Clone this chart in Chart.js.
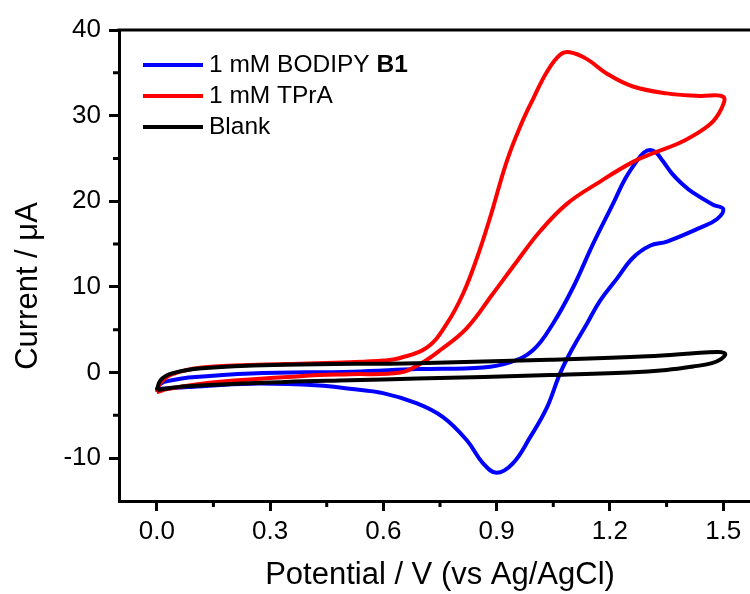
<!DOCTYPE html>
<html>
<head>
<meta charset="utf-8">
<script src="https://cdn.jsdelivr.net/npm/chart.js@4.4.1/dist/chart.umd.min.js"></script>
<style>
  html, body { margin: 0; padding: 0; background: #fff; overflow: hidden; }
</style>
</head>
<body>
<canvas id="cvChart" width="764" height="594"></canvas>
<script>
/* =====================================================
   DATA
===================================================== */
const xTicks = [0, 0.3, 0.6, 0.9, 1.2, 1.5];
const xMinor = [0.15, 0.45, 0.75, 1.05, 1.35];
const yTicks = [-10, 0, 10, 20, 30, 40];
const yMinor = [-5, 5, 15, 25, 35];

const seriesNames = ["1 mM BODIPY ", "1 mM TPrA", "Blank"];
const seriesBold = ["B1", "", ""];
const seriesColors = ["#0000ff", "#ff0000", "#000000"];

// 1 mM BODIPY B1 : forward scan then reverse scan
const bodipyV = [0, 0.01, 0.04, 0.08, 0.25, 0.52, 0.69, 0.864, 0.935, 0.996, 1.049, 1.102, 1.155, 1.208, 1.24, 1.271, 1.29, 1.306, 1.322, 1.34, 1.365, 1.392, 1.42, 1.473, 1.50,
  1.483, 1.438, 1.351, 1.306, 1.261, 1.219, 1.174, 1.139, 1.102, 1.068, 1.033, 0.988, 0.943, 0.90, 0.864, 0.821, 0.758, 0.689, 0.599, 0.511, 0.43, 0.25, 0.08, 0.01, 0];
const bodipyI = [-2.0, -1.3, -0.9, -0.6, -0.1, 0.1, 0.4, 0.6, 1.2, 2.6, 5.7, 9.9, 15.0, 19.7, 22.6, 24.7, 25.7, 26.0, 25.7, 24.7, 23.2, 22.0, 21.0, 19.6, 19.1,
  17.9, 16.9, 15.3, 14.8, 13.4, 11.0, 8.4, 5.7, 2.9, -0.1, -4.1, -7.6, -10.6, -11.7, -10.6, -7.9, -5.2, -3.6, -2.4, -1.9, -1.5, -1.3, -1.7, -1.9, -2.0];

// 1 mM TPrA
const tpraV = [0, 0.01, 0.04, 0.12, 0.34, 0.51, 0.60, 0.644, 0.715, 0.768, 0.811, 0.848, 0.882, 0.927, 0.965, 0.997, 1.033, 1.068, 1.094, 1.139, 1.192, 1.261, 1.351, 1.438, 1.50,
  1.495, 1.465, 1.393, 1.32, 1.261, 1.174, 1.086, 1.015, 0.954, 0.89, 0.821, 0.75, 0.697, 0.644, 0.511, 0.43, 0.16, 0.03, 0];
const tpraI = [-2.3, -1.2, -0.2, 0.6, 1.0, 1.2, 1.4, 1.7, 2.9, 5.7, 9.2, 13.4, 18.0, 24.7, 29.0, 32.0, 35.1, 37.1, 37.4, 36.6, 34.9, 33.4, 32.6, 32.3, 32.2,
  30.8, 29.0, 27.0, 25.7, 24.6, 22.3, 19.7, 16.5, 13.0, 9.2, 5.2, 2.6, 1.0, 0.0, -0.2, -0.3, -1.1, -1.9, -2.3];

// Blank
const blankV = [0, 0.01, 0.04, 0.12, 0.34, 0.69, 1.04, 1.30, 1.483, 1.505,
  1.495, 1.47, 1.42, 1.35, 1.25, 1.041, 0.69, 0.511, 0.34, 0.08, 0.005, 0];
const blankI = [-2.1, -0.9, -0.1, 0.5, 0.9, 1.1, 1.5, 1.9, 2.4, 2.2,
  1.6, 1.1, 0.7, 0.3, 0.0, -0.3, -0.7, -0.9, -1.1, -1.6, -2.0, -2.1];

/* =====================================================
   HELPERS
===================================================== */
const FONT = "'Liberation Sans', Arial, sans-serif";

function toPoints(vs, is) {
  return vs.map((v, i) => ({ x: v, y: is[i] }));
}

/* =====================================================
   DECORATIONS: frame, minor ticks, legend, y title
===================================================== */
const decorPlugin = {
  id: "decor",
  afterDraw(chart) {
    const { ctx, chartArea: a, scales } = chart;
    ctx.save();
    ctx.strokeStyle = "#000";
    ctx.lineWidth = 3;

    ctx.beginPath();
    ctx.moveTo(a.left - 1.5, a.top);
    ctx.lineTo(a.right, a.top);
    ctx.lineTo(a.right, a.bottom);
    ctx.stroke();

    ctx.beginPath();
    xMinor.forEach(v => {
      const px = scales.x.getPixelForValue(v);
      ctx.moveTo(px, a.bottom);
      ctx.lineTo(px, a.bottom + 6);
    });
    yMinor.forEach(v => {
      const py = scales.y.getPixelForValue(v);
      ctx.moveTo(a.left, py);
      ctx.lineTo(a.left - 6, py);
    });
    ctx.stroke();

    // legend
    ctx.textBaseline = "middle";
    ctx.textAlign = "left";
    seriesNames.forEach((name, i) => {
      const y = 65 + i * 31;
      ctx.strokeStyle = seriesColors[i];
      ctx.lineWidth = 4;
      ctx.beginPath();
      ctx.moveTo(143, y);
      ctx.lineTo(203, y);
      ctx.stroke();
      ctx.fillStyle = "#000";
      ctx.font = "24.5px " + FONT;
      ctx.fillText(name, 209, y);
      if (seriesBold[i]) {
        const w = ctx.measureText(name).width;
        ctx.font = "bold 24.5px " + FONT;
        ctx.fillText(seriesBold[i], 209 + w, y);
      }
    });

    // y axis title
    ctx.translate(28, 286);
    ctx.rotate(-Math.PI / 2);
    ctx.font = "31px " + FONT;
    ctx.textAlign = "center";
    ctx.fillStyle = "#000";
    ctx.fillText("Current / \u03BCA", 0, 0);
    ctx.restore();
  }
};

/* =====================================================
   CHART
===================================================== */
const datasets = [
  { data: toPoints(bodipyV, bodipyI), order: 3 },
  { data: toPoints(tpraV, tpraI), order: 2 },
  { data: toPoints(blankV, blankI), order: 1 }
].map((d, i) => ({
  label: seriesNames[i] + seriesBold[i],
  data: d.data,
  order: d.order,
  showLine: true,
  borderColor: seriesColors[i],
  backgroundColor: seriesColors[i],
  borderWidth: 4,
  pointRadius: 0,
  tension: 0.4,
  fill: false
}));

new Chart(document.getElementById("cvChart"), {
  type: "scatter",
  data: { datasets: datasets },
  options: {
    responsive: false,
    animation: false,
    layout: { padding: { left: 9, top: 30, right: 3, bottom: 0 } },
    plugins: {
      legend: { display: false },
      tooltip: { enabled: false }
    },
    scales: {
      x: {
        type: "linear",
        min: -0.1,
        max: 1.6,
        afterBuildTicks: s => { s.ticks = xTicks.map(v => ({ value: v })); },
        afterFit: s => { s.height = 93; },
        ticks: {
          color: "#000",
          font: { family: FONT, size: 26 },
          padding: 5,
          maxRotation: 0,
          autoSkip: false,
          callback: v => Number(v).toFixed(1)
        },
        grid: { drawOnChartArea: false, tickLength: 10, tickWidth: 3, tickColor: "#000" },
        border: { display: true, width: 3, color: "#000" },
        title: {
          display: true,
          text: "Potential / V (vs Ag/AgCl)",
          color: "#000",
          font: { family: FONT, size: 31 },
          padding: 0
        }
      },
      y: {
        type: "linear",
        min: -15,
        max: 40,
        afterBuildTicks: s => { s.ticks = yTicks.map(v => ({ value: v })); },
        afterFit: s => { s.width = 110; },
        ticks: {
          color: "#000",
          font: { family: FONT, size: 26 },
          padding: 8,
          autoSkip: false
        },
        grid: { drawOnChartArea: false, tickLength: 10, tickWidth: 3, tickColor: "#000" },
        border: { display: true, width: 3, color: "#000" }
      }
    }
  },
  plugins: [decorPlugin]
});
</script>
</body>
</html>
